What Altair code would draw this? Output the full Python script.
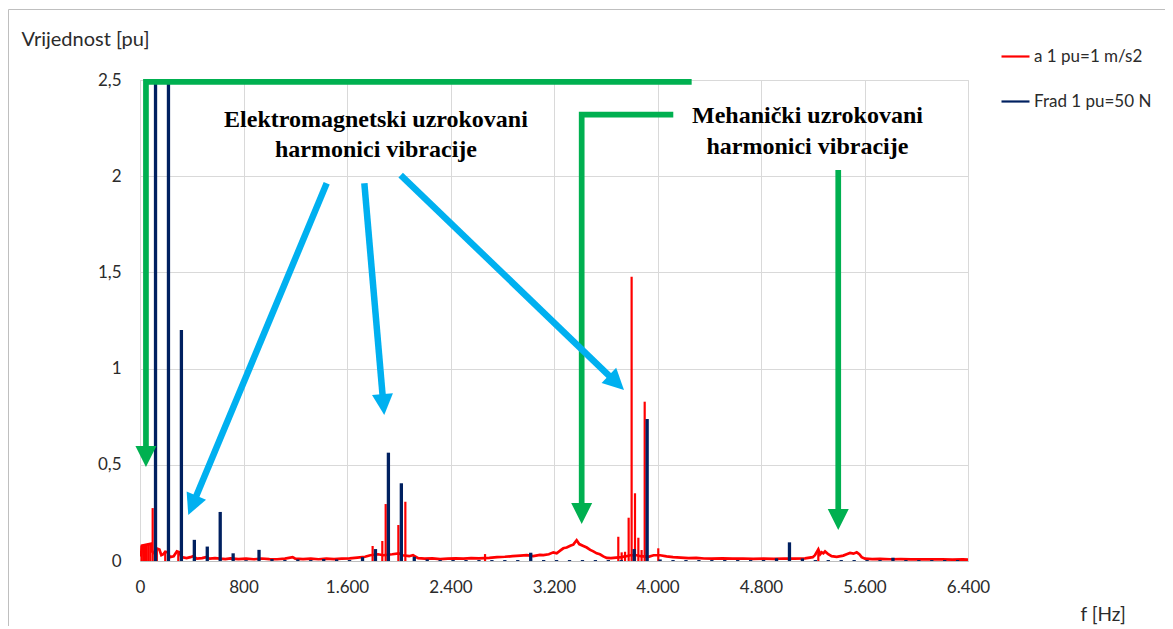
import altair as alt
import pandas as pd

# ---------------- data ----------------
SER_A = "a 1 pu=1 m/s2"
SER_F = "Frad 1 pu=50 N"

# red spectrum (acceleration) – floor line
red_f = [0, 8, 15, 88, 92, 110, 125, 150, 165, 180, 195, 215, 230, 260, 285, 305, 320, 360, 390, 410,
         440, 480, 510, 540, 580, 620, 660, 700, 760, 820, 880, 940, 1000, 1060, 1120, 1180, 1200, 1260,
         1320, 1380, 1440, 1500, 1560, 1620, 1680, 1740, 1780, 1840, 1880, 1950, 2000, 2030, 2080, 2110,
         2150, 2200, 2260, 2320, 2380, 2440, 2500, 2560, 2620, 2700, 2760, 2820, 2880, 2940, 2990, 3040,
         3092, 3118, 3160, 3195, 3221, 3250, 3272, 3298, 3330, 3349, 3375, 3395, 3427, 3453, 3480, 3504,
         3530, 3555, 3581, 3607, 3640, 3680, 3720, 3760, 3790, 3840, 3870, 3930, 3970, 4020, 4070, 4120,
         4180, 4240, 4300, 4360, 4420, 4500, 4580, 4660, 4740, 4820, 4900, 4980, 5060, 5140, 5200, 5217,
         5243, 5257, 5269, 5282, 5295, 5320, 5346, 5385, 5436, 5462, 5488, 5515, 5540, 5560, 5578, 5604,
         5660, 5720, 5800, 5880, 5960, 6040, 6120, 6200, 6280, 6360, 6400]
red_v = [0.03, 0.03, 0.08, 0.09, 0.05, 0.04, 0.066, 0.06, 0.03, 0.035, 0.048, 0.045, 0.02, 0.025, 0.05,
         0.045, 0.02, 0.015, 0.02, 0.025, 0.012, 0.015, 0.02, 0.012, 0.015, 0.012, 0.01, 0.014, 0.01, 0.012,
         0.009, 0.013, 0.01, 0.009, 0.012, 0.02, 0.012, 0.01, 0.012, 0.009, 0.012, 0.01, 0.012, 0.014, 0.018,
         0.022, 0.03, 0.035, 0.03, 0.035, 0.04, 0.03, 0.025, 0.03, 0.015, 0.012, 0.014, 0.01, 0.012, 0.014,
         0.012, 0.015, 0.014, 0.016, 0.02, 0.022, 0.025, 0.028, 0.03, 0.025, 0.032, 0.031, 0.035, 0.045,
         0.04, 0.055, 0.066, 0.07, 0.08, 0.085, 0.108, 0.088, 0.078, 0.07, 0.058, 0.05, 0.04, 0.035, 0.024,
         0.016, 0.015, 0.018, 0.02, 0.025, 0.03, 0.03, 0.025, 0.022, 0.03, 0.03, 0.024, 0.02, 0.018, 0.015,
         0.016, 0.013, 0.012, 0.014, 0.012, 0.013, 0.011, 0.012, 0.011, 0.013, 0.012, 0.014, 0.02, 0.03,
         0.06, 0.035, 0.045, 0.04, 0.05, 0.035, 0.025, 0.022, 0.028, 0.035, 0.042, 0.038, 0.045, 0.035,
         0.02, 0.012, 0.01, 0.011, 0.009, 0.01, 0.008, 0.009, 0.008, 0.008, 0.007, 0.008, 0.007]

# red spectrum – narrow peaks
red_peak_f = [12, 25, 38, 52, 66, 80, 98, 130, 195, 296, 1798, 1873, 1899, 1997, 2051, 2667,
              3697, 3723, 3749, 3777, 3800, 3826, 3852, 3877, 3901, 4006, 5243]
red_peak_v = [0.08, 0.082, 0.085, 0.085, 0.09, 0.09, 0.275, 0.066, 0.048, 0.05, 0.078, 0.104, 0.296,
              0.187, 0.308, 0.036, 0.126, 0.045, 0.048, 0.225, 1.478, 0.352, 0.121, 0.057, 0.828,
              0.066, 0.057]

# blue spectrum (radial force) – harmonics every 100 Hz
blue_f = [120, 220, 320, 420, 520, 620, 720, 820, 920, 1020, 1120, 1220, 1320, 1420, 1520, 1620,
          1720, 1820, 1920, 2020, 2120, 2220, 2320, 2420, 2520, 2620, 2720, 2820, 2920, 3020, 3120,
          3220, 3320, 3420, 3520, 3620, 3720, 3820, 3920, 4020, 4120, 4220, 4320, 4420, 4520, 4620,
          4720, 4820, 4920, 5020, 5120, 5220, 5320, 5420, 5520, 5620, 5720, 5820, 5920, 6020, 6120,
          6220, 6320]
blue_v = [3.2, 3.0, 1.2, 0.11, 0.075, 0.255, 0.04, 0.004, 0.058, 0.01, 0.005, 0.008, 0.005, 0.01,
          0.008, 0.005, 0.02, 0.062, 0.563, 0.404, 0.022, 0.008, 0.005, 0.005, 0.005, 0.005, 0.005,
          0.005, 0.005, 0.043, 0.005, 0.005, 0.005, 0.005, 0.005, 0.005, 0.005, 0.062, 0.738, 0.008,
          0.005, 0.005, 0.005, 0.005, 0.005, 0.005, 0.005, 0.005, 0.014, 0.097, 0.013, 0.005, 0.005,
          0.005, 0.005, 0.005, 0.005, 0.017, 0.005, 0.005, 0.005, 0.005, 0.005]

x_ticks = [0, 800, 1600, 2400, 3200, 4000, 4800, 5600, 6400]
y_ticks = [0, 0.5, 1, 1.5, 2, 2.5]

# annotation geometry (data units)
green_id = [1, 1, 1, 2, 2, 2, 3, 3]
green_f = [4264, 46, 46, 4122, 3414, 3414, 5397, 5397]
green_v = [2.49, 2.49, 0.587, 2.32, 2.32, 0.291, 2.032, 0.26]

cyan_id = [1, 1, 2, 2, 3, 3]
cyan_f = [1443, 418, 1734, 1879, 2015, 3663]
cyan_v = [1.963, 0.311, 1.963, 0.831, 2.006, 0.939]

head_f = [46, 3414, 5397, 373, 1888, 3741]
head_v = [0.489, 0.192, 0.161, 0.239, 0.759, 0.889]
head_ang = [180, 180, 180, 202.6, 175.1, 134.0]
head_col = ["#00B050", "#00B050", "#00B050", "#00B0F0", "#00B0F0", "#00B0F0"]

label_txt = ["Elektromagnetski uzrokovani", "harmonici vibracije",
             "Mehanički uzrokovani", "harmonici vibracije"]
label_f = [1824, 1824, 5159, 5159]
label_v = [2.257, 2.101, 2.275, 2.115]

# ---------------- tables ----------------
red_df = pd.DataFrame({"f": red_f, "v": red_v, "s": SER_A})
redpk_df = pd.DataFrame({"f": red_peak_f, "v": red_peak_v, "s": SER_A})
blue_df = pd.DataFrame({"f": blue_f, "v": blue_v, "s": SER_F})
green_df = pd.DataFrame({"id": green_id, "f": green_f, "v": green_v,
                         "o": list(range(len(green_f)))})
cyan_df = pd.DataFrame({"id": cyan_id, "f": cyan_f, "v": cyan_v, "o": list(range(len(cyan_f)))})
head_df = pd.DataFrame({"f": head_f, "v": head_v, "a": head_ang, "c": head_col})
label_df = pd.DataFrame({"t": label_txt, "f": label_f, "v": label_v})

FONT = "Lato"
TXT = "#2b2b2b"

xaxis = alt.Axis(values=x_ticks, labelExpr="replace(format(datum.value, ','), ',', '.')",
                 title="f [Hz]", titleX=940, titleY=59, titleAlign="left",
                 titleBaseline="alphabetic", titleFont=FONT, titleFontSize=19,
                 titleFontWeight="normal", titleColor=TXT,
                 labelFont=FONT, labelFontSize=17, labelColor=TXT, labelPadding=18,
                 ticks=False, tickSize=0, grid=True, gridColor="#D9D9D9",
                 domain=True, domainColor="#BFBFBF", labelFlush=False)
yaxis = alt.Axis(values=y_ticks, labelExpr="replace(toString(datum.value), '.', ',')",
                 title="Vrijednost [pu]", titleAngle=0, titleX=-119, titleY=-35,
                 titleAlign="left", titleBaseline="alphabetic", titleFont=FONT,
                 titleFontSize=20, titleFontWeight="normal", titleColor=TXT,
                 labelFont=FONT, labelFontSize=17, labelColor=TXT, labelPadding=19,
                 ticks=False, tickSize=0, grid=True, gridColor="#D9D9D9",
                 domain=False, labelFlush=False)


def X():
    return alt.X("f:Q", scale=alt.Scale(domain=[0, 6400], nice=False, zero=False), axis=xaxis)


def Y():
    return alt.Y("v:Q", scale=alt.Scale(domain=[0, 2.5], nice=False), axis=yaxis)


color = alt.Color("s:N", scale=alt.Scale(domain=[SER_A, SER_F], range=["#FF0000", "#002060"]),
                  legend=alt.Legend(title=None, orient="none", legendX=860, legendY=-39,
                                    symbolType="stroke", symbolSize=784, symbolStrokeWidth=2.2,
                                    labelFont=FONT, labelFontSize=17, labelColor=TXT,
                                    labelOffset=3, rowPadding=21, labelLimit=300))

border = alt.Chart(pd.DataFrame({"k": [0]})).mark_rect(
    filled=False, stroke="#BFBFBF", strokeWidth=1, clip=False
).encode(x=alt.value(-131.5), x2=alt.value(1200), y=alt.value(-70.5), y2=alt.value(700))

red_line = alt.Chart(red_df).mark_line(strokeWidth=2.7, clip=True).encode(
    x=X(), y=Y(), color=color, order="f:Q")
red_peaks = alt.Chart(redpk_df).mark_rule(strokeWidth=2.2, clip=True).encode(
    x=X(), y=Y(), y2=alt.datum(0), color=color)
blue_bars = alt.Chart(blue_df).mark_rule(strokeWidth=3.3, clip=True).encode(
    x=X(), y=Y(), y2=alt.datum(0), color=color)

green_lines = alt.Chart(green_df).mark_line(
    color="#00B050", strokeWidth=5.7, strokeJoin="miter", strokeCap="butt").encode(
    x=X(), y=Y(), detail="id:N", order="o:Q")
cyan_lines = alt.Chart(cyan_df).mark_line(
    color="#00B0F0", strokeWidth=6.5, strokeCap="butt").encode(
    x=X(), y=Y(), detail="id:N", order="o:Q")
heads = alt.Chart(head_df).mark_point(
    shape="M0,0L-0.5,1L0.5,1Z", filled=True, size=1764, opacity=1, strokeWidth=0).encode(
    x=X(), y=Y(), angle=alt.Angle("a:Q", scale=None), color=alt.Color("c:N", scale=None))
labels = alt.Chart(label_df).mark_text(
    font="Liberation Serif", fontWeight="bold", fontSize=24, align="center",
    baseline="alphabetic", color="#000000").encode(x=X(), y=Y(), text="t:N")

chart = alt.layer(border, red_line, red_peaks, blue_bars, green_lines, cyan_lines, heads, labels
                  ).properties(
    width=828, height=481,
    padding={"left": 132, "top": 72, "right": 197, "bottom": 65},
    autosize=alt.AutoSizeParams(type="none"),
).configure_view(stroke="#C8C8C8", strokeWidth=1).configure(background="white")

chart.save("out.html", embed_options={"renderer": "svg", "actions": False})
